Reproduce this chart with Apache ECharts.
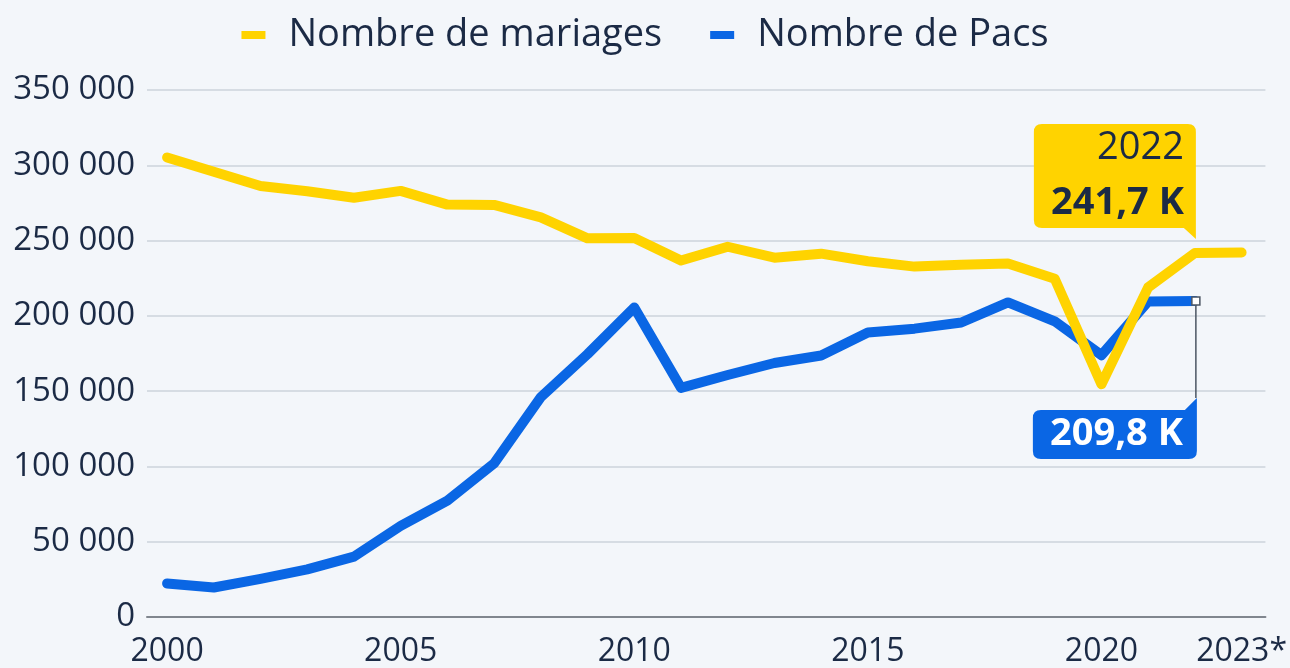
<!DOCTYPE html>
<html>
<head>
<meta charset="utf-8">
<script src="https://cdn.jsdelivr.net/npm/echarts@6/dist/echarts.min.js"></script>
<style>
  html, body { margin: 0; padding: 0; background: #f3f6fa; }
  #chart { width: 1290px; height: 668px; }
</style>
</head>
<body>
<div id="chart"></div>
<script>
// années et valeurs
const years = [2000, 2001, 2002, 2003, 2004, 2005, 2006, 2007, 2008, 2009, 2010, 2011,
  2012, 2013, 2014, 2015, 2016, 2017, 2018, 2019, 2020, 2021, 2022, 2023]
const mariages = [305200, 295700, 286200, 282800, 278400, 283000, 273900, 273700, 265400,
  251500, 251700, 236800, 245900, 238600, 241300, 236300, 232700, 233900, 234700, 224700,
  154600, 218900, 241700, 242000]
const pacs = [22300, 19600, 25300, 31600, 40100, 60500, 77300, 102000, 146000, 174600,
  205600, 152200, 160700, 168700, 173700, 188900, 191500, 195600, 208900, 196400, 173900,
  209500, 209800]
const xTicks = [2000, 2005, 2010, 2015, 2020, 2023]
const yTicks = [0, 50000, 100000, 150000, 200000, 250000, 300000, 350000]

const yellow = '#ffd300'
const blue = '#0a66e4'
const ink = '#1b2a45'
const font = 'Open Sans'

const fmtK = v => (v / 1000).toFixed(1).replace('.', ',') + ' K'
const fmtNum = v => String(v).replace(/\B(?=(\d{3})+(?!\d))/g, ' ')

const lastM = 22
const lastP = pacs.length - 1

const chart = echarts.init(document.getElementById('chart'))

const option = {
  backgroundColor: '#f3f6fa',
  animation: false,
  textStyle: { fontFamily: font },
  legend: {
    top: 11,
    left: 'center',
    itemWidth: 24,
    itemHeight: 8,
    itemGap: 48,
    icon: 'rect',
    textStyle: { fontSize: 38, color: ink, fontFamily: font, padding: [0, 0, 0, 18] },
    data: ['Nombre de mariages', 'Nombre de Pacs']
  },
  grid: { left: 147, right: 22, top: 90, bottom: 49 },
  xAxis: {
    type: 'value',
    min: 1999.57,
    max: 2023.51,
    splitLine: { show: false },
    axisTick: { show: false },
    axisLine: { show: true, onZero: false, lineStyle: { color: '#80868e', width: 2 } },
    axisLabel: {
      customValues: xTicks,
      fontSize: 32,
      color: ink,
      margin: 19,
      formatter: v => (v === 2023 ? '2023*' : String(v))
    }
  },
  yAxis: {
    type: 'value',
    min: yTicks[0],
    max: yTicks[yTicks.length - 1],
    interval: 50000,
    axisLine: { show: false },
    axisTick: { show: false },
    splitLine: { lineStyle: { color: '#cdd3db', width: 1.5 } },
    axisLabel: { fontSize: 33, color: ink, margin: 12, formatter: v => fmtNum(v) }
  },
  series: [
    {
      name: 'Nombre de Pacs',
      type: 'line',
      z: 2,
      showSymbol: false,
      color: blue,
      lineStyle: { width: 10, color: blue, cap: 'round', join: 'round' },
      data: pacs.map((v, i) => [years[i], v]),
      markPoint: {
        silent: true,
        data: [
          {
            // trait de rappel
            coord: [years[lastP], pacs[lastP]],
            symbol: 'rect',
            symbolSize: [1.5, 97],
            symbolOffset: [1, 48.5],
            itemStyle: { color: '#4b5563' },
            label: { show: false }
          },
          {
            coord: [years[lastP], pacs[lastP]],
            symbol: 'rect',
            symbolSize: 8,
            symbolOffset: [1, 0],
            itemStyle: { color: '#ffffff', borderColor: '#4b5563', borderWidth: 1.5 },
            label: { show: false }
          },
          {
            coord: [years[lastP], pacs[lastP]],
            symbol: 'path://M8 12 H152 L164 0 V53 Q164 61 156 61 H8 Q0 61 0 53 V20 Q0 12 8 12 Z',
            symbolSize: [164, 61],
            symbolOffset: [-80, 127.5],
            itemStyle: { color: blue },
            label: {
              show: true,
              position: [150, 36.5],
              align: 'right',
              verticalAlign: 'middle',
              formatter: () => fmtK(pacs[lastP]),
              fontSize: 38,
              fontWeight: 'bold',
              color: '#ffffff',
              fontFamily: font
            }
          }
        ]
      }
    },
    {
      name: 'Nombre de mariages',
      type: 'line',
      z: 3,
      showSymbol: false,
      color: yellow,
      lineStyle: { width: 10, color: yellow, cap: 'round', join: 'round' },
      data: mariages.map((v, i) => [years[i], v]),
      markPoint: {
        silent: true,
        data: [
          {
            coord: [years[lastM], mariages[lastM]],
            symbol: 'path://M8 0 H154 Q162 0 162 8 V115 L150 104 H8 Q0 104 0 96 V8 Q0 0 8 0 Z',
            symbolSize: [162, 115],
            symbolOffset: [-80, -71.5],
            itemStyle: { color: yellow },
            label: {
              show: true,
              position: [150, 52],
              align: 'right',
              verticalAlign: 'middle',
              formatter: () => '{y|' + years[lastM] + '}\n{v|' + fmtK(mariages[lastM]) + '}',
              rich: {
                y: { fontSize: 38, color: ink, lineHeight: 55, align: 'right', fontFamily: font },
                v: { fontSize: 38, fontWeight: 'bold', color: ink, lineHeight: 55, align: 'right', fontFamily: font }
              }
            }
          }
        ]
      }
    }
  ]
}

chart.setOption(option)
</script>
</body>
</html>
